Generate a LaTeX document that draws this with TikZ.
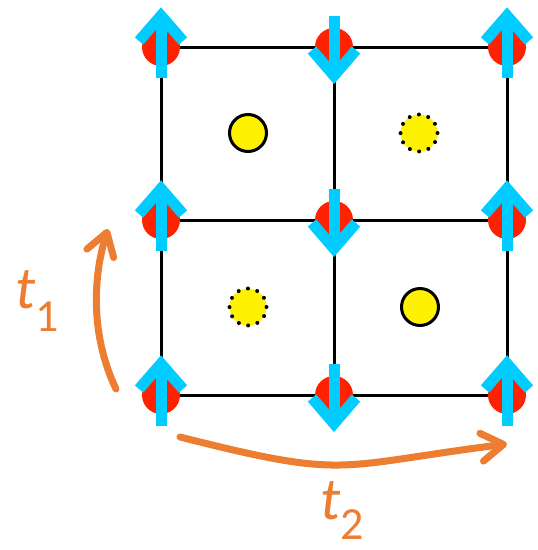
\documentclass[tikz,border=0pt]{standalone}
\usepackage{fontspec}
\setmainfont{Carlito}
\usetikzlibrary{arrows.meta}

\definecolor{spinred}{RGB}{255,34,0}
\definecolor{spinblue}{RGB}{0,204,255}
\definecolor{hopcol}{RGB}{237,125,49}
\newcommand{\hopsubfont}{\fontsize{46}{46}\selectfont}

\tikzset{
  site/.style={circle, fill=spinred, inner sep=0pt, minimum size=38pt},
  bond/.style={draw=black, line width=3pt},
  plaq/.style={circle, draw=black, line width=3pt, fill=yellow, inner sep=0pt, minimum size=37pt},
  plaqdot/.style={plaq, line width=4pt, line cap=round, dash pattern=on 0pt off 9.69pt},
  hop/.style={draw=hopcol, line width=7pt, line cap=round,
    -{Straight Barb[length=22pt, width=28pt, round]}},
  hoplbl/.style={text=hopcol, inner sep=0pt, anchor=base west, font=\fontsize{60}{60}\selectfont},
  spinup/.pic={
    \draw[spinblue, line width=11pt] (0,31) -- (0,-33);
    \draw[spinblue, line width=11pt, line join=miter] (-22,-6) -- (0,-31.3) -- (22,-6);
  },
  spindown/.pic={
    \draw[spinblue, line width=11pt] (0,-31) -- (0,26);
    \draw[spinblue, line width=11pt, line join=miter] (-22,3) -- (0,28.6) -- (22,3);
  }
}

\begin{document}
\begin{tikzpicture}[x=1pt, y=-1pt]
  \useasboundingbox (0,0) rectangle (538,550);

  \foreach \i/\x in {0/161, 1/334, 2/507}
    \foreach \j/\y in {0/47, 1/220, 2/395}
      \node[site] (s\i\j) at (\x,\y) {};

  \foreach \j in {0,1,2} {
    \draw[bond] (s0\j) -- (s1\j);
    \draw[bond] (s1\j) -- (s2\j);
  }
  \foreach \i in {0,1,2} {
    \draw[bond] (s\i0) -- (s\i1);
    \draw[bond] (s\i1) -- (s\i2);
  }

  \foreach \j in {0,1,2} {
    \pic at (s0\j) {spinup};
    \pic at (s1\j) {spindown};
    \pic at (s2\j) {spinup};
  }

  \node[plaq]    (p00) at (248,133) {};
  \node[plaqdot] (p10) at (419,133) {};
  \node[plaqdot] (p01) at (248,307) {};
  \node[plaq]    (p11) at (420,307) {};

  \coordinate (h1a) at (116,389);
  \coordinate (h1b) at (108,229);
  \draw[hop] (h1a) .. controls (88,330) and (95,270) .. (h1b);
  \coordinate (h2a) at (180,437);
  \coordinate (h2b) at (507,444);
  \draw[hop] (h2a) .. controls (350,480) and (333,466) .. (h2b);

  \node[hoplbl] (t1) at (15,308) {\textit{t}\raisebox{-23pt}{\hopsubfont 1}};
  \node[hoplbl] (t2) at (320,519) {\textit{t}\raisebox{-20pt}{\hopsubfont 2}};
\end{tikzpicture}
\end{document}
